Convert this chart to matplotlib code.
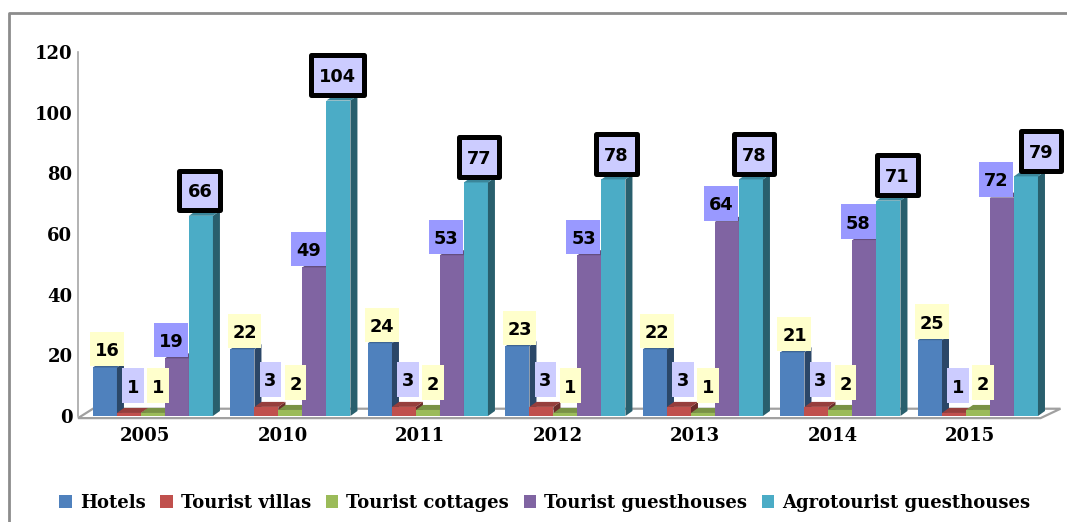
import matplotlib
matplotlib.use('Agg')
import matplotlib.pyplot as plt
from matplotlib.patches import Polygon, Patch
from matplotlib.lines import Line2D
from matplotlib.path import Path
from matplotlib.transforms import ScaledTranslation
import matplotlib.colors as mcolors
import numpy as np

# ---------------- data ----------------
years = ['2005', '2010', '2011', '2012', '2013', '2014', '2015']
series_names = ['Hotels', 'Tourist villas', 'Tourist cottages',
                'Tourist guesthouses', 'Agrotourist guesthouses']
hotels = [16, 22, 24, 23, 22, 21, 25]
villas = [1, 3, 3, 3, 3, 3, 1]
cottages = [1, 2, 2, 1, 1, 2, 2]
guesthouses = [19, 49, 53, 53, 64, 58, 72]
agro = [66, 104, 77, 78, 78, 71, 79]
yticks = [0, 20, 40, 60, 80, 100, 120]

# ---------------- style ----------------
colors = ['#4F81BD', '#C0504D', '#9BBB59', '#8064A2', '#4BACC6']
label_fc = ['#FFFFCC', '#CCCCFF', '#FFFFCC', '#9999FF', '#CCCCFF']
label_dx = [2, 4, 5, -6, 0]            # px nudges per series
label_dy = [7.4, 16.4, 16.4, 7.4, 14.4]  # px above bar top
agro_nudge = [-1, -1, 3, 3, 3, 9, 15]  # px, extra nudge of agro labels

W, H = 1067, 522
fig = plt.figure(figsize=(W / 100, H / 100), dpi=100)
fig.patch.set_facecolor('white')


def fx(px):
    return px / W


def fy(py):
    return 1 - py / H


def rect_box(padx, pady, shift):
    def style(x0, y0, width, height, mutation_size):
        px = padx * mutation_size
        pb = (pady - shift) * mutation_size
        pt = (pady + shift) * mutation_size
        xa, xb = x0 - px, x0 + width + px
        ya, yb = y0 - pb, y0 + height + pt
        return Path([(xa, ya), (xb, ya), (xb, yb), (xa, yb), (xa, ya)],
                    [Path.MOVETO, Path.LINETO, Path.LINETO, Path.LINETO, Path.CLOSEPOLY])
    return style


ax = fig.add_axes([fx(78), fy(416), fx(1062) - fx(78), fy(52) - fy(416)])
ax.set_xlim(-0.545, 6.611)
ax.set_ylim(0, 120)
ax.patch.set_alpha(0)
for s in ['top', 'right', 'bottom']:
    ax.spines[s].set_visible(False)
ax.spines['left'].set_color('#A6A6A6')
ax.spines['left'].set_linewidth(1.2)

serif = dict(family='DejaVu Serif', weight='bold', size=13)
ax.set_yticks(yticks)
ax.set_yticklabels([str(v) for v in yticks], **serif)
ax.tick_params(axis='y', length=0, pad=4)
ax.set_xticks(range(len(years)))
ax.set_xticklabels(years, **serif)
ax.tick_params(axis='x', length=0, pad=8)
for lab in ax.get_xticklabels():
    lab.set_transform(lab.get_transform() + ScaledTranslation(-8 / 100, 0, fig.dpi_scale_trans))

# depth offsets (pixels -> data)
px_x = 137.5
px_y = (416 - 52) / 120
ddx = 7 / px_x
ddy = 5 / px_y

# floor
floor = Polygon([(-0.545, -0.7), (6.455, -0.7), (6.60, 2.4), (-0.436, 2.4)],
                closed=True, facecolor='white', edgecolor='#A0A0A0', lw=1.6,
                zorder=0.5, clip_on=False)
ax.add_patch(floor)

data = [hotels, villas, cottages, guesthouses, agro]
w = 0.1745
x = np.arange(len(years))


def shade(c, f):
    r, g, b = mcolors.to_rgb(c)
    return (r * f, g * f, b * f)


for j, vals in enumerate(data):
    z = 2 + j * 0.1
    bars = ax.bar(x + (j - 2) * w, vals, w, color=colors[j], zorder=z,
                  linewidth=0, clip_on=False)
    for rect in bars:
        x0, h, bw = rect.get_x(), rect.get_height(), rect.get_width()
        side = Polygon([(x0 + bw, 0), (x0 + bw + ddx, ddy), (x0 + bw + ddx, h + ddy), (x0 + bw, h)],
                       closed=True, facecolor=shade(colors[j], 0.55), edgecolor='none',
                       zorder=z + 0.05, clip_on=False)
        top = Polygon([(x0, h), (x0 + ddx, h + ddy), (x0 + bw + ddx, h + ddy), (x0 + bw, h)],
                      closed=True, facecolor=shade(colors[j], 0.78), edgecolor='none',
                      zorder=z + 0.05, clip_on=False)
        ax.add_patch(side)
        ax.add_patch(top)

# value labels
plain_box = rect_box(0.265, 0.47, 0.11)
framed_box = rect_box(0.46, 0.61, 0.11)
for j, vals in enumerate(data):
    for i, v in enumerate(vals):
        xc = x[i] + (j - 2) * w
        dxp = label_dx[j] + (agro_nudge[i] if j == 4 else 0)
        if j == 4:
            bbox = dict(boxstyle=framed_box, fc=label_fc[j], ec='black', lw=3.6,
                        joinstyle='round')
        else:
            bbox = dict(boxstyle=plain_box, fc=label_fc[j], ec='none')
        ax.annotate(str(v), (xc, v), xytext=(dxp * 0.72, label_dy[j] * 0.72),
                    textcoords='offset points', ha='center', va='bottom',
                    fontsize=12.75, fontweight='bold', family='DejaVu Sans',
                    color='black', bbox=bbox, zorder=6, annotation_clip=False)

# legend
handles = [Patch(facecolor=c, edgecolor='none') for c in colors]
fig.legend(handles, series_names, loc='center', bbox_to_anchor=(fx(545), fy(503)),
           ncol=5, frameon=False, prop=dict(family='DejaVu Serif', weight='bold', size=13),
           handlelength=0.7, handleheight=0.7, handletextpad=0.45, columnspacing=0.8,
           borderaxespad=0)

# outer frame
fig.add_artist(Line2D([fx(9), fx(9), 1.0], [0, fy(13), fy(13)], color='#8C8C8C', lw=2))

fig.savefig('out.png', dpi=100)
